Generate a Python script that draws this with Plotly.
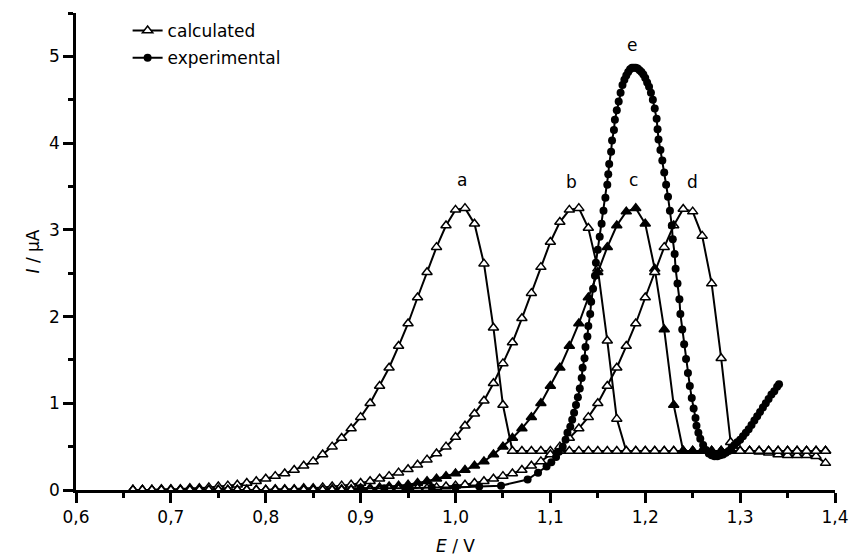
import plotly.graph_objects as go

# Potential grid of the calculated voltammograms (V)
E_CALC = [0.66, 0.67, 0.68, 0.69, 0.70, 0.71, 0.72, 0.73, 0.74, 0.75,
          0.76, 0.77, 0.78, 0.79, 0.80, 0.81, 0.82, 0.83, 0.84, 0.85,
          0.86, 0.87, 0.88, 0.89, 0.90, 0.91, 0.92, 0.93, 0.94, 0.95,
          0.96, 0.97, 0.98, 0.99, 1.00, 1.01, 1.02, 1.03, 1.04, 1.05,
          1.06, 1.07, 1.08, 1.09, 1.10, 1.11, 1.12, 1.13, 1.14, 1.15,
          1.16, 1.17, 1.18, 1.19, 1.20, 1.21, 1.22, 1.23, 1.24, 1.25,
          1.26, 1.27, 1.28, 1.29, 1.30, 1.31, 1.32, 1.33, 1.34, 1.35,
          1.36, 1.37, 1.38, 1.39]

# Calculated currents (uA)
I_A = [0.00, 0.00, 0.00, 0.01, 0.01, 0.01, 0.02, 0.02, 0.03, 0.04,
       0.05, 0.06, 0.08, 0.10, 0.13, 0.16, 0.19, 0.23, 0.28, 0.33,
       0.41, 0.50, 0.60, 0.71, 0.84, 1.00, 1.20, 1.41, 1.66, 1.92,
       2.22, 2.51, 2.80, 3.05, 3.23, 3.25, 3.07, 2.61, 1.87, 0.98,
       0.45, 0.45, 0.45, 0.45, 0.45, 0.45, 0.45, 0.45, 0.45, 0.45,
       0.45, 0.45, 0.45, 0.45, 0.45, 0.45, 0.45, 0.45, 0.45, 0.45,
       0.45, 0.45, 0.45, 0.45, 0.45, 0.45, 0.44, 0.43, 0.41, 0.40,
       0.40, 0.40, 0.39, 0.31]

I_B = [0.00, 0.00, 0.00, 0.00, 0.00, 0.00, 0.00, 0.00, 0.00, 0.00,
       0.00, 0.00, 0.00, 0.00, 0.00, 0.01, 0.01, 0.01, 0.02, 0.02,
       0.03, 0.04, 0.05, 0.06, 0.08, 0.10, 0.13, 0.16, 0.20, 0.24,
       0.29, 0.35, 0.42, 0.50, 0.61, 0.74, 0.88, 1.03, 1.23, 1.46,
       1.70, 1.98, 2.27, 2.57, 2.86, 3.09, 3.23, 3.25, 3.02, 2.55,
       1.72, 0.82, 0.45, 0.45, 0.45, 0.45, 0.45, 0.45, 0.45, 0.45,
       0.45, 0.45, 0.45, 0.45, 0.45, 0.45, 0.45, 0.45, 0.45, 0.45,
       0.45, 0.45, 0.45, 0.45]

I_C = [0.00, 0.00, 0.00, 0.00, 0.00, 0.00, 0.00, 0.00, 0.00, 0.00,
       0.00, 0.00, 0.00, 0.00, 0.00, 0.00, 0.00, 0.00, 0.00, 0.00,
       0.00, 0.01, 0.01, 0.01, 0.02, 0.02, 0.03, 0.04, 0.05, 0.06,
       0.08, 0.10, 0.13, 0.16, 0.19, 0.23, 0.28, 0.33, 0.41, 0.50,
       0.60, 0.71, 0.84, 1.00, 1.20, 1.41, 1.66, 1.92, 2.22, 2.51,
       2.80, 3.05, 3.21, 3.25, 3.07, 2.55, 1.85, 0.98, 0.45, 0.45,
       0.45, 0.45, 0.45, 0.45, 0.45, 0.45, 0.45, 0.45, 0.45, 0.45,
       0.45, 0.45, 0.45, 0.45]

I_D = [0.00, 0.00, 0.00, 0.00, 0.00, 0.00, 0.00, 0.00, 0.00, 0.00,
       0.00, 0.00, 0.00, 0.00, 0.00, 0.00, 0.00, 0.00, 0.00, 0.00,
       0.00, 0.00, 0.00, 0.00, 0.00, 0.00, 0.00, 0.01, 0.01, 0.01,
       0.02, 0.02, 0.03, 0.04, 0.05, 0.06, 0.08, 0.10, 0.13, 0.16,
       0.19, 0.23, 0.28, 0.33, 0.41, 0.50, 0.60, 0.71, 0.84, 1.00,
       1.20, 1.41, 1.66, 1.92, 2.22, 2.51, 2.80, 3.05, 3.24, 3.21,
       2.93, 2.38, 1.52, 0.55, 0.45, 0.45, 0.45, 0.45, 0.45, 0.45,
       0.45, 0.45, 0.45, 0.45]

# Experimental voltammogram
E_EXP = [0.900, 0.925, 0.950, 0.975, 1.000, 1.025, 1.048,
         1.076, 1.087, 1.096, 1.101, 1.106, 1.109, 1.113, 1.116, 1.118, 1.121,
         1.123, 1.125, 1.127, 1.129, 1.131, 1.133, 1.134, 1.136, 1.137, 1.139,
         1.140, 1.142, 1.143, 1.145, 1.147, 1.148, 1.150, 1.152, 1.154, 1.156,
         1.158, 1.160, 1.161, 1.162, 1.164, 1.165, 1.167, 1.168, 1.170, 1.172,
         1.174, 1.176, 1.178, 1.180, 1.182, 1.184, 1.186, 1.188, 1.190, 1.192,
         1.194, 1.196, 1.198, 1.200, 1.202, 1.204, 1.206, 1.208, 1.210, 1.212,
         1.213, 1.214, 1.216, 1.218, 1.220, 1.222, 1.224, 1.226, 1.228, 1.229,
         1.231, 1.232, 1.234, 1.236, 1.237, 1.239, 1.241, 1.243, 1.245, 1.247,
         1.249, 1.251, 1.253, 1.254, 1.256, 1.258, 1.261, 1.264, 1.267, 1.270,
         1.273, 1.276, 1.279, 1.282, 1.285, 1.288, 1.291, 1.294, 1.297, 1.300,
         1.303, 1.306, 1.309, 1.312, 1.315, 1.318, 1.321, 1.324, 1.327, 1.330,
         1.333, 1.336, 1.339, 1.341]
I_EXP = [0.02, 0.02, 0.02, 0.03, 0.03, 0.04, 0.05,
         0.12, 0.20, 0.27, 0.32, 0.38, 0.44, 0.50, 0.58, 0.66, 0.73,
         0.81, 0.89, 0.98, 1.07, 1.17, 1.29, 1.41, 1.52, 1.65, 1.77,
         1.89, 2.03, 2.17, 2.32, 2.47, 2.62, 2.77, 2.92, 3.07, 3.22,
         3.37, 3.52, 3.64, 3.76, 3.90, 4.03, 4.15, 4.27, 4.38, 4.48,
         4.58, 4.67, 4.73, 4.78, 4.82, 4.85, 4.87, 4.87, 4.87, 4.86,
         4.84, 4.82, 4.79, 4.75, 4.70, 4.65, 4.58, 4.50, 4.40, 4.28,
         4.16, 4.04, 3.92, 3.80, 3.66, 3.52, 3.38, 3.22, 3.05, 2.89,
         2.72, 2.55, 2.38, 2.20, 2.03, 1.85, 1.68, 1.51, 1.35, 1.20,
         1.06, 0.94, 0.83, 0.74, 0.66, 0.59, 0.52, 0.46, 0.42, 0.40,
         0.39, 0.39, 0.40, 0.41, 0.43, 0.45, 0.49, 0.52, 0.55, 0.58,
         0.62, 0.66, 0.70, 0.75, 0.80, 0.85, 0.90, 0.95, 1.00, 1.05,
         1.10, 1.14, 1.19, 1.22]

# Curve labels and their positions (V, uA)
LABELS = ["a", "b", "c", "d", "e"]
LABEL_E = [1.007, 1.122, 1.188, 1.250, 1.186]
LABEL_I = [3.58, 3.55, 3.58, 3.55, 5.13]

FONT = "DejaVu Sans"
BLACK = "black"

fig = go.Figure()

calc_curves = [(I_A, False, True), (I_B, False, False), (I_C, True, False), (I_D, False, False)]
for values, filled, in_legend in calc_curves:
    fig.add_trace(go.Scatter(
        x=E_CALC, y=values, mode="lines+markers",
        name="calculated", legendgroup="calc", showlegend=in_legend,
        line=dict(color=BLACK, width=2),
        marker=dict(symbol="triangle-up", size=9,
                    color=BLACK if filled else "white",
                    line=dict(color=BLACK, width=1.5)),
        cliponaxis=False,
    ))

fig.add_trace(go.Scatter(
    x=E_EXP, y=I_EXP, mode="lines+markers",
    name="experimental", legendgroup="exp",
    line=dict(color=BLACK, width=2),
    marker=dict(symbol="circle", size=8, color=BLACK, line=dict(width=0)),
    cliponaxis=False,
))

for txt, xe, yi in zip(LABELS, LABEL_E, LABEL_I):
    fig.add_annotation(x=xe, y=yi, text=txt, showarrow=False,
                       font=dict(family=FONT, size=17, color=BLACK))

axis_common = dict(
    showline=True, linecolor=BLACK, linewidth=2.5, mirror=False,
    showgrid=False, zeroline=False,
    ticks="outside", ticklen=10, tickwidth=2.5, tickcolor=BLACK,
    tickfont=dict(family=FONT, size=17, color=BLACK),
)

fig.update_xaxes(
    range=[0.6, 1.4], tick0=0.6, dtick=0.1, tickformat=".1f",
    minor=dict(dtick=0.05, ticks="outside", ticklen=5, tickwidth=2.5, tickcolor=BLACK),
    title=dict(text="<i>E</i> / V", font=dict(family=FONT, size=17, color=BLACK), standoff=14),
    **axis_common,
)
fig.update_yaxes(
    range=[0, 5.5], tick0=0, dtick=1,
    minor=dict(dtick=0.5, ticks="outside", ticklen=5, tickwidth=2.5, tickcolor=BLACK),
    title=dict(text="<i>I</i> / μA", font=dict(family=FONT, size=17, color=BLACK), standoff=6),
    **axis_common,
)

fig.update_layout(
    width=849, height=559,
    margin=dict(l=76, r=14, t=13, b=69, autoexpand=False),
    plot_bgcolor="white", paper_bgcolor="white",
    font=dict(family=FONT, size=17, color=BLACK),
    separators=", ",
    legend=dict(x=0.068, y=1.0, xanchor="left", yanchor="top",
                bgcolor="rgba(0,0,0,0)", borderwidth=0,
                font=dict(family=FONT, size=17, color=BLACK),
                traceorder="grouped", tracegroupgap=2),
)

fig.write_html("out.html")
